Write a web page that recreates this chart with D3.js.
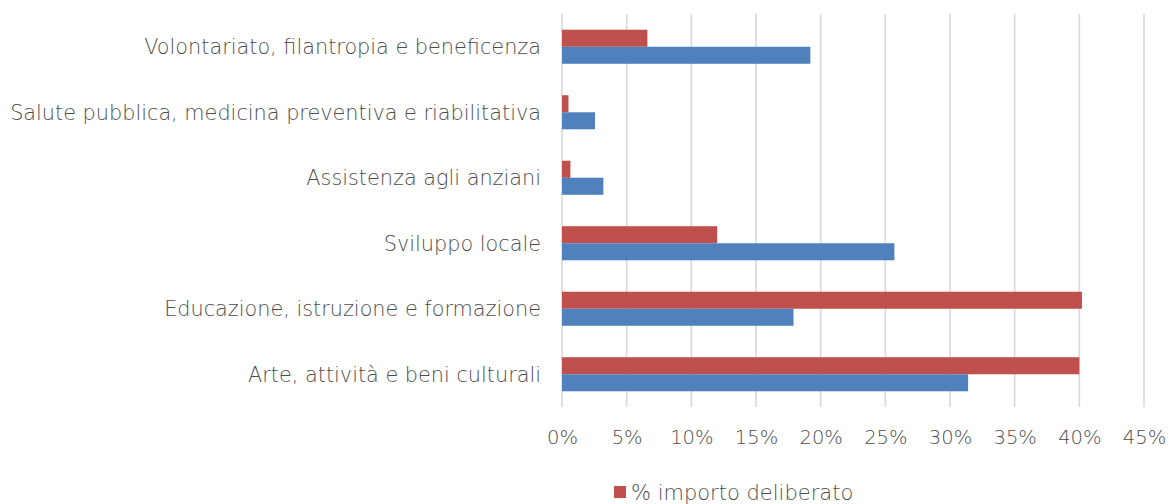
<!DOCTYPE html>
<html><head><meta charset="utf-8">
<script src="https://cdn.jsdelivr.net/npm/d3@7"></script>
<style>
html,body{margin:0;padding:0;background:#fff;}
svg{display:block;}
text{font-family:"DejaVu Sans",sans-serif;font-weight:200;}
</style></head>
<body><svg id="c" width="1170" height="504"></svg>
<script>
const categories = ["Volontariato, filantropia e beneficenza","Salute pubblica, medicina preventiva e riabilitativa","Assistenza agli anziani","Sviluppo locale","Educazione, istruzione e formazione","Arte, attività e beni culturali"];
const importoDeliberato = [6.6, 0.5, 0.65, 12.0, 40.2, 40.0];
const secondSeries = [19.2, 2.55, 3.2, 25.7, 17.9, 31.4];
const xTicks = [0,5,10,15,20,25,30,35,40,45];
const legendLabel = "% importo deliberato";

const svg = d3.select("#c");
const m = {l:562, r:1144, t:14, b:407};
const x = d3.scaleLinear().domain([0,45]).range([m.l, m.r]);
const y = d3.scaleBand().domain(categories).range([m.t, m.b]).paddingInner(0.48).paddingOuter(0.24);
const sub = d3.scaleBand().domain(["red","blue"]).range([0, y.bandwidth()]);

svg.append("g").selectAll("line").data(xTicks).join("line")
  .attr("x1", d=>x(d)).attr("x2", d=>x(d)).attr("y1", m.t).attr("y2", m.b)
  .attr("stroke","#d9d9d9").attr("stroke-width",1.6);

const g = svg.append("g");
g.selectAll("rect.r").data(categories).join("rect").attr("class","r")
  .attr("x", x(0)).attr("y", d=>y(d)+sub("red"))
  .attr("width", (d,i)=>x(importoDeliberato[i])-x(0)).attr("height", sub.bandwidth())
  .attr("fill","#C0504D");
g.selectAll("rect.b").data(categories).join("rect").attr("class","b")
  .attr("x", x(0)).attr("y", d=>y(d)+sub("blue"))
  .attr("width", (d,i)=>x(secondSeries[i])-x(0)).attr("height", sub.bandwidth())
  .attr("fill","#4F81BD");

const tc = "#4d4d4d";
const xa = d3.axisBottom(x).tickValues(xTicks).tickFormat(d=>d+"%").tickSize(0).tickPadding(0);
const xg = svg.append("g").attr("transform",`translate(0,${m.b})`).call(xa);
xg.select(".domain").remove();
xg.attr("font-family",null);
xg.selectAll("text").attr("y",37).attr("dy",0).attr("fill",tc)
  .style("font-size","19.5px");

const ya = d3.axisLeft(y).tickSize(0).tickPadding(0);
const yg = svg.append("g").attr("transform",`translate(541,0)`).call(ya);
yg.select(".domain").remove();
yg.attr("font-family",null);
yg.selectAll("text").attr("x",0).attr("dy","0.35em").attr("fill",tc)
  .style("font-size","20.8px");

const lg = svg.append("g").attr("transform","translate(614,486)");
lg.append("rect").attr("width",12).attr("height",12).attr("fill","#C0504D");
lg.append("text").attr("x",17).attr("y",14).attr("fill",tc)
  .style("font-size","21px").text(legendLabel);
</script></body></html>
